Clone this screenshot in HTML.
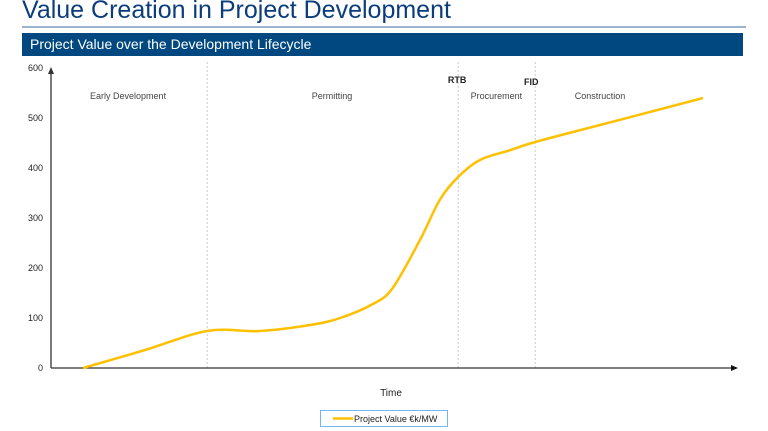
<!DOCTYPE html>
<html><head><meta charset="utf-8"><style>
body{margin:0;background:#fff;font-family:"Liberation Sans",Arial,sans-serif}
#wrap{position:relative;width:768px;height:431px;overflow:hidden}
</style></head><body>
<div id="wrap">
<div style="position:absolute;left:22px;top:-4px;font-size:25px;color:#0b3d7a;white-space:nowrap">Value Creation in Project Development</div>
<div style="position:absolute;left:22px;top:26px;width:724px;height:2px;background:#9bb5cf"></div>
<div style="position:absolute;left:22px;top:33px;width:721px;height:23px;background:#00487f;color:#fff;font-size:14px;line-height:23px;padding-left:8px;box-sizing:border-box">Project Value over the Development Lifecycle</div>
<svg id="chart" width="768" height="431" style="position:absolute;left:0;top:0"></svg>
</div>
<script>
const times=[4.7,13.8,22.9,30.6,38,42.4,47.2,50.1,54.1,57.0,59.7,62.9,67.4,71,80.5,87.8,95.6];
const values=[0,36,74,74,86,100,128,160,256,336,382,416,436,452,486,512,540];
const yTicks=[0,100,200,300,400,500,600];
const phases=["Early Development","Permitting","Procurement","Construction"];
const phaseCenters=[11.3,41.2,65.3,80.5];
const dividers=[22.9,59.7,71];
const milestones=["RTB","FID"];
const milestoneTimes=[59.7,71];
const NS="http://www.w3.org/2000/svg";
const svg=document.getElementById('chart');
const x0=51,x1=733,y0=368,y1=68;
const xs=t=>x0+t*(x1-x0)/100;
const ys=v=>y0-v*(y0-y1)/600;
function mk(tag,attrs,txt){const e=document.createElementNS(NS,tag);for(const k in attrs)e.setAttribute(k,attrs[k]);if(txt!=null)e.textContent=txt;svg.appendChild(e);return e;}
dividers.forEach(d=>{const e=mk('line',{x1:xs(d),x2:xs(d),y1:62,y2:370,stroke:'#c8c8c8','stroke-dasharray':'2,2','stroke-width':1});

});
yTicks.forEach(v=>{const e=mk('text',{x:43,y:ys(v)+3,'font-size':9,'text-anchor':'end',fill:'#222'},v);

});
let a=mk('line',{x1:x0,x2:x0,y1:y0,y2:y1+4,stroke:'#333','stroke-width':1.3});


a=mk('path',{d:`M${x0-3},${y1+6} L${x0},${y1-1} L${x0+3},${y1+6}Z`,fill:'#333'});


a=mk('line',{x1:x0,x2:x1,y1:y0,y2:y0,stroke:'#333','stroke-width':1.3});


a=mk('path',{d:`M${x1-2},${y0-3} L${x1+5},${y0} L${x1-2},${y0+3}Z`,fill:'#111'});


phases.forEach((p,i)=>{const e=mk('text',{x:xs(phaseCenters[i]),y:99,'font-size':9,'text-anchor':'middle',fill:'#444'},p);

});
milestones.forEach((m,i)=>{const e=mk('text',{x:xs(milestoneTimes[i])-(i?4:1),y:i?85:83,'font-size':9,'font-weight':'bold','text-anchor':'middle',fill:'#222'},m);

});
const P=times.map((t,i)=>[xs(t),ys(values[i])]);
let d=`M${P[0][0]},${P[0][1]}`;
for(let i=0;i<P.length-1;i++){const p0=P[Math.max(0,i-1)],p1=P[i],p2=P[i+1],p3=P[Math.min(P.length-1,i+2)];
d+=` C${p1[0]+(p2[0]-p0[0])/6},${p1[1]+(p2[1]-p0[1])/6} ${p2[0]-(p3[0]-p1[0])/6},${p2[1]-(p3[1]-p1[1])/6} ${p2[0]},${p2[1]}`;}
const line=mk('path',{d:d,fill:'none',stroke:'#ffc000','stroke-width':2.5});


a=mk('text',{x:391,y:396,'font-size':10,'text-anchor':'middle',fill:'#222'},'Time');


a=mk('rect',{x:320.5,y:410.5,width:127,height:16,fill:'#fff',stroke:'#6fb8f0','stroke-width':1});


a=mk('line',{x1:333,x2:353,y1:418.5,y2:418.5,stroke:'#ffc000','stroke-width':2.5});


a=mk('text',{x:354,y:422,'font-size':9,fill:'#222'},'Project Value €k/MW');


</script>
</body></html>
